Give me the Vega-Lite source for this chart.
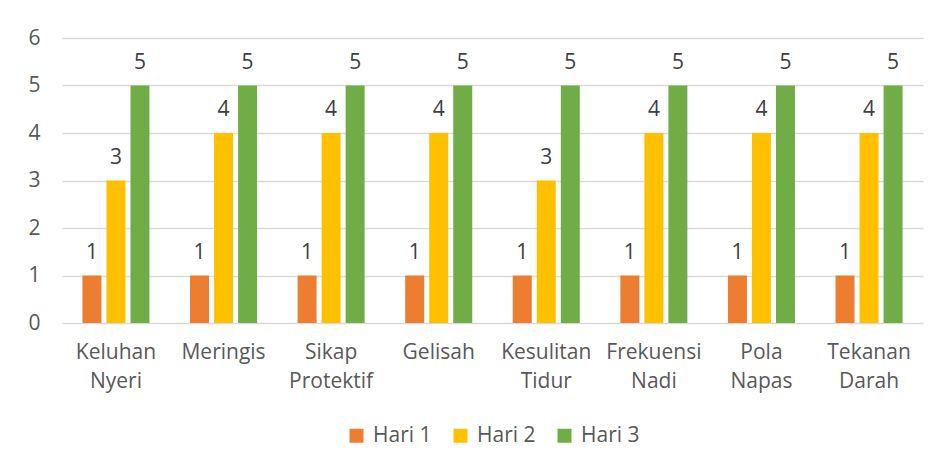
{
  "$schema": "https://vega.github.io/schema/vega-lite/v6.json",
  "width": 861,
  "height": 285,
  "autosize": {"type": "none"},
  "padding": {"left": 62, "top": 38, "right": 19, "bottom": 146},
  "background": "white",
  "config": {
    "view": {"stroke": null},
    "font": "Open Sans",
    "text": {"font": "Open Sans"},
    "legend": {"layout": {"bottom": {"anchor": "middle"}}}
  },
  "data": {
    "values": [
      {"kategori": "Keluhan Nyeri", "hari": "Hari 1", "nilai": 1},
      {"kategori": "Keluhan Nyeri", "hari": "Hari 2", "nilai": 3},
      {"kategori": "Keluhan Nyeri", "hari": "Hari 3", "nilai": 5},
      {"kategori": "Meringis", "hari": "Hari 1", "nilai": 1},
      {"kategori": "Meringis", "hari": "Hari 2", "nilai": 4},
      {"kategori": "Meringis", "hari": "Hari 3", "nilai": 5},
      {"kategori": "Sikap Protektif", "hari": "Hari 1", "nilai": 1},
      {"kategori": "Sikap Protektif", "hari": "Hari 2", "nilai": 4},
      {"kategori": "Sikap Protektif", "hari": "Hari 3", "nilai": 5},
      {"kategori": "Gelisah", "hari": "Hari 1", "nilai": 1},
      {"kategori": "Gelisah", "hari": "Hari 2", "nilai": 4},
      {"kategori": "Gelisah", "hari": "Hari 3", "nilai": 5},
      {"kategori": "Kesulitan Tidur", "hari": "Hari 1", "nilai": 1},
      {"kategori": "Kesulitan Tidur", "hari": "Hari 2", "nilai": 3},
      {"kategori": "Kesulitan Tidur", "hari": "Hari 3", "nilai": 5},
      {"kategori": "Frekuensi Nadi", "hari": "Hari 1", "nilai": 1},
      {"kategori": "Frekuensi Nadi", "hari": "Hari 2", "nilai": 4},
      {"kategori": "Frekuensi Nadi", "hari": "Hari 3", "nilai": 5},
      {"kategori": "Pola Napas", "hari": "Hari 1", "nilai": 1},
      {"kategori": "Pola Napas", "hari": "Hari 2", "nilai": 4},
      {"kategori": "Pola Napas", "hari": "Hari 3", "nilai": 5},
      {"kategori": "Tekanan Darah", "hari": "Hari 1", "nilai": 1},
      {"kategori": "Tekanan Darah", "hari": "Hari 2", "nilai": 4},
      {"kategori": "Tekanan Darah", "hari": "Hari 3", "nilai": 5}
    ]
  },
  "encoding": {
    "x": {
      "field": "kategori",
      "type": "nominal",
      "sort": null,
      "scale": {"paddingInner": 0.377, "paddingOuter": 0.19},
      "axis": {
        "title": null,
        "labelAngle": 0,
        "labelExpr": "split(datum.label, ' ')",
        "labelFontSize": 21,
        "labelColor": "#595959",
        "labelLineHeight": 29,
        "labelPadding": 18,
        "ticks": false,
        "domain": false
      }
    },
    "xOffset": {
      "field": "hari",
      "type": "nominal",
      "scale": {"paddingInner": 0.21, "paddingOuter": 0}
    },
    "y": {
      "field": "nilai",
      "type": "quantitative",
      "scale": {"domain": [0, 6], "nice": false},
      "axis": {
        "title": null,
        "values": [0, 1, 2, 3, 4, 5, 6],
        "labelFontSize": 21,
        "labelColor": "#595959",
        "labelPadding": 22,
        "ticks": false,
        "domain": false,
        "gridColor": "#d9d9d9",
        "gridWidth": 1.3
      }
    }
  },
  "layer": [
    {
      "mark": {"type": "bar"},
      "encoding": {
        "color": {
          "field": "hari",
          "type": "nominal",
          "scale": {
            "domain": ["Hari 1", "Hari 2", "Hari 3"],
            "range": ["#ED7D31", "#FFC000", "#70AD47"]
          },
          "legend": {
            "title": null,
            "orient": "bottom",
            "direction": "horizontal",
            "symbolType": "square",
            "symbolSize": 196,
            "symbolStrokeWidth": 0,
            "labelFontSize": 21,
            "labelColor": "#595959",
            "columnPadding": 18,
            "labelOffset": 6,
            "offset": 34
          }
        }
      }
    },
    {
      "mark": {
        "type": "text",
        "baseline": "alphabetic",
        "dy": -17,
        "fontSize": 21,
        "color": "#404040"
      },
      "encoding": {
        "text": {"field": "nilai", "type": "quantitative"}
      }
    }
  ]
}
